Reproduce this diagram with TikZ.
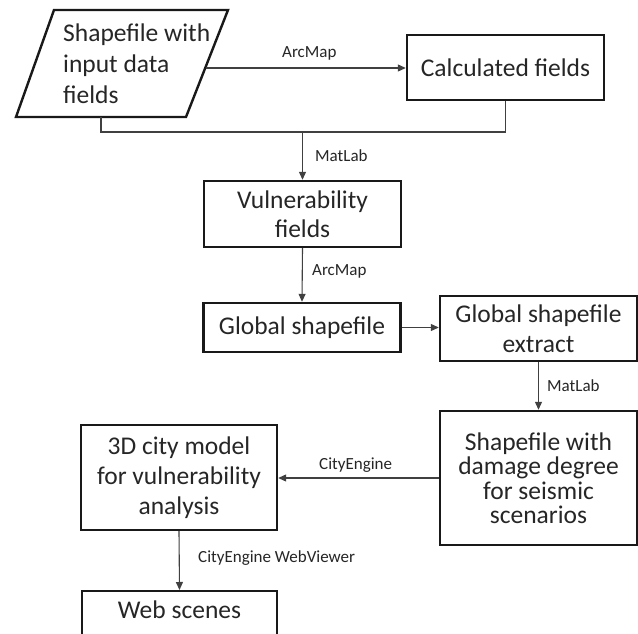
\documentclass[tikz,border=0pt]{standalone}
\usepackage{fontspec}
\setmainfont{Carlito}
\usetikzlibrary{arrows.meta}
\begin{document}
\begin{tikzpicture}[x=1pt,y=-1pt,
  box/.style={draw=black!90, line width=2.4pt, rectangle, inner sep=0pt, align=center,
    font=\fontsize{25.5}{29.5}\selectfont, text=black!85},
  conn/.style={draw=black!75, line width=1.1pt},
  arr/.style={conn, -{Triangle[length=8pt,width=7pt]}},
  lbl/.style={inner sep=0pt, font=\fontsize{17}{20}\selectfont, text=black!85},
  parabox/.style={draw=black!90, line width=2.4pt, line join=miter}]
\useasboundingbox (0,0) rectangle (638,634);
\clip (0,0) rectangle (638,634);
\fill[white] (0,0) rectangle (638,634);

% parallelogram input
\draw[parabox] (54,10) -- (228,10) -- (186,117) -- (16,117) -- cycle;
\node[inner sep=0pt, anchor=west, align=left, font=\fontsize{25.5}{31}\selectfont, text=black!85]
  (src) at (63,63.5) {Shapefile with\\input data\\fields};
\coordinate (srcR) at (206,68);
\coordinate (srcB) at (101,117);
\coordinate (jn) at (302.5,132);

\node[box, minimum width=197, minimum height=65] (calc) at (505.5,67.5) {Calculated fields};
\node[box, minimum width=197, minimum height=66] (vul) at (302.5,214) {Vulnerability\\fields};
\node[box, minimum width=197, minimum height=49] (glob) at (302,327.5) {Global shapefile};
\node[box, minimum width=197, minimum height=65] (ext) at (538.5,328.5) {Global shapefile\\extract};
\node[box, minimum width=197, minimum height=134, font=\fontsize{25.5}{24.5}\selectfont] (dmg) at (538.5,478) {Shapefile with\\damage degree\\for seismic\\scenarios};
\node[box, minimum width=196, minimum height=105, font=\fontsize{25.5}{30}\selectfont] (city) at (179,477.5) {3D city model\\for vulnerability\\analysis};
\node[box, anchor=north, minimum width=195, text height=17, text depth=45, inner ysep=10pt] (web) at (179.5,590) {Web scenes};

% connectors
\draw[arr] (srcR) -- (srcR -| calc.west);
\draw[conn] (srcB) |- (jn) -| (calc.south);
\draw[arr] (jn) -- (vul.north);
\draw[arr] (vul.south) -- (glob.north);
\draw[arr] (glob.east) -- (glob.east -| ext.west);
\draw[arr] (ext.south) -- (dmg.north);
\draw[arr] (dmg.west) -- (dmg.west -| city.east);
\draw[arr] (city.south) -- (web.north);

% labels
\node[lbl, anchor=base west] (l1) at (282,58) {ArcMap};
\node[lbl, anchor=base west] (l2) at (315,161) {MatLab};
\node[lbl, anchor=base west] (l3) at (312,275) {ArcMap};
\node[lbl, anchor=base west] (l4) at (547,391) {MatLab};
\node[lbl, anchor=base west] (l5) at (319,469) {CityEngine};
\node[lbl, anchor=base west] (l6) at (198,562) {CityEngine WebViewer};
\end{tikzpicture}
\end{document}
